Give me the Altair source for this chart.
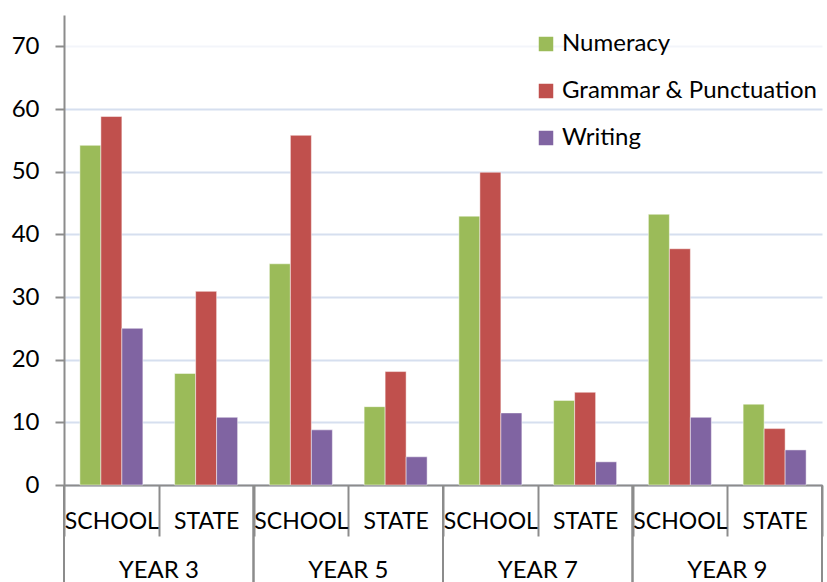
import altair as alt
import pandas as pd

# Results by year level, school vs state, for each assessment domain
years = ["YEAR 3", "YEAR 5", "YEAR 7", "YEAR 9"]
groups = ["SCHOOL", "STATE"]
series = ["Numeracy", "Grammar & Punctuation", "Writing"]
colors = ["#9BBB59", "#C0504D", "#8064A2"]

numeracy = [54.2, 17.8, 35.3, 12.5, 42.9, 13.5, 43.2, 12.9]
grammar = [58.8, 30.9, 55.8, 18.1, 49.9, 14.8, 37.7, 9.0]
writing = [25.0, 10.8, 8.8, 4.5, 11.5, 3.7, 10.8, 5.6]

FONT = "Lato"
W, H = 758, 470

rows = []
cats = []
for yi, yr in enumerate(years):
    for gi, g in enumerate(groups):
        idx = yi * 2 + gi
        cat = f"{yr}|{g}"
        cats.append(cat)
        for s, vals in zip(series, [numeracy, grammar, writing]):
            rows.append({"cat": cat, "year": yr, "group": g, "series": s, "value": vals[idx]})
df = pd.DataFrame(rows)
years_df = pd.DataFrame({"year": years})

x_cat = alt.X(
    "cat:N",
    sort=cats,
    scale=alt.Scale(paddingInner=0, paddingOuter=0),
    axis=alt.Axis(
        title=None,
        labelExpr="split(datum.value, '|')[1]",
        labelAngle=0,
        labelFont=FONT,
        labelFontSize=23,
        labelColor="#000000",
        labelPadding=-8,
        labelBaseline="alphabetic",
        tickBand="extent",
        tickSize=51,
        tickColor="#8C8C8C",
        tickWidth=2,
        domainColor="#8C8C8C",
        domainWidth=2,
        grid=False,
    ),
)

y_val = alt.Y(
    "value:Q",
    scale=alt.Scale(domain=[0, 75], nice=False),
    axis=alt.Axis(
        title=None,
        values=[0, 10, 20, 30, 40, 50, 60, 70],
        labelFont=FONT,
        labelFontSize=24,
        labelColor="#000000",
        labelPadding=16,
        tickSize=9,
        tickColor="#8C8C8C",
        tickWidth=2,
        domainColor="#8C8C8C",
        domainWidth=2,
        gridColor="#D6DFEF",
        gridWidth=2,
        gridOpacity=alt.condition("datum.value == 70", alt.value(0.3), alt.value(1)),
    ),
)

bars = alt.Chart(df).mark_bar(
    stroke="#FFFFFF", strokeWidth=0.8, strokeOpacity=0.6
).encode(
    x=x_cat,
    xOffset=alt.XOffset(
        "series:N", sort=series, scale=alt.Scale(paddingInner=0, paddingOuter=0.756)
    ),
    y=y_val,
    color=alt.Color(
        "series:N",
        sort=series,
        scale=alt.Scale(domain=series, range=colors),
        legend=alt.Legend(
            title=None,
            orient="none",
            legendX=470,
            legendY=17,
            symbolType="square",
            symbolSize=210,
            symbolStrokeWidth=0,
            labelFont=FONT,
            labelFontSize=24,
            labelColor="#000000",
            labelOffset=4,
            labelLimit=400,
            rowPadding=23,
        ),
    ),
)

# Year-group separators (both edges of each year band) and year labels
year_scale = alt.Scale(paddingInner=0, paddingOuter=0)
x_year = alt.X("year:N", sort=years, scale=year_scale, axis=None)

year_start = alt.Chart(years_df).mark_rule(color="#8C8C8C", strokeWidth=2).encode(
    x=alt.X("year:N", sort=years, scale=year_scale, axis=None, bandPosition=0),
    y=alt.value(H),
    y2=alt.value(H + 100),
)
year_end = alt.Chart(years_df).mark_rule(color="#8C8C8C", strokeWidth=2).encode(
    x=alt.X("year:N", sort=years, scale=year_scale, axis=None, bandPosition=1),
    y=alt.value(H),
    y2=alt.value(H + 100),
)
year_text = alt.Chart(years_df).mark_text(
    font=FONT, fontSize=24, color="#000000", baseline="alphabetic", align="center"
).encode(
    x=x_year,
    y=alt.value(H + 93),
    text="year:N",
)

chart = (
    alt.layer(bars, year_start, year_end, year_text)
    .resolve_scale(x="independent")
    .properties(
        width=W,
        height=H,
        background="#FFFFFF",
        autosize=alt.AutoSizeParams(type="none"),
        padding={"left": 64, "top": 15, "right": 5, "bottom": 97},
    )
    .configure_view(strokeWidth=0, strokeOpacity=0)
)

chart.save("out.html", embed_options={"renderer": "svg", "actions": False})
